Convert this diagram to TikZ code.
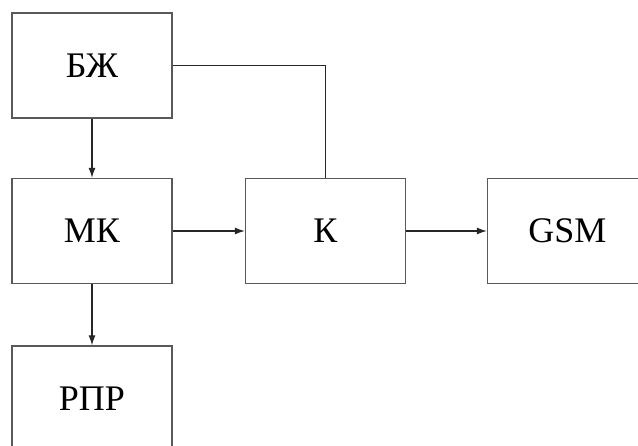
\documentclass[tikz,border=0pt]{standalone}
\usepackage{fontspec}
\setmainfont{Liberation Serif}
\usetikzlibrary{arrows.meta}
\begin{document}
\begin{tikzpicture}[x=1pt,y=-1pt,
  block/.style={draw=black!65, line width=1.4pt, fill=white,
    minimum width=160pt, minimum height=105pt, inner sep=0pt,
    font=\fontsize{36}{40}\selectfont},
  link/.style={draw=black!85, line width=1.1pt},
  arr/.style={link, -{Latex[length=10pt,width=7pt]}}]
  \useasboundingbox (0,0) rectangle (638,446);
  \clip (0,0) rectangle (638,446);
  \fill[white] (0,0) rectangle (638,446);
  % blocks
  \node[block] (bzh) at (92,65.5)  {БЖ};
  \node[block] (mk)  at (92,231)   {МК};
  \node[block] (k)   at (325.5,231) {К};
  \node[block] (gsm) at (567.5,231) {GSM};
  \node[block] (rpr) at (92,398.5) {РПР};
  % connections
  \draw[arr] (bzh) -- (mk);
  \draw[arr] (mk) -- (k);
  \draw[arr] (k) -- (gsm);
  \draw[arr] (mk) -- (rpr);
  \draw[link] (bzh.east) -| (k.north);
\end{tikzpicture}
\end{document}
